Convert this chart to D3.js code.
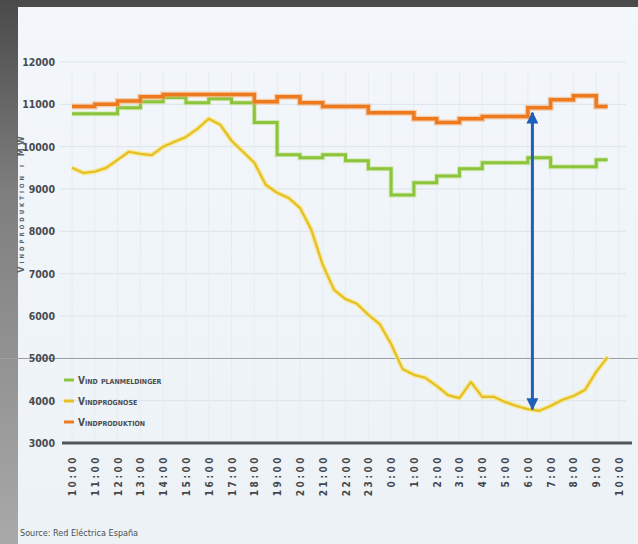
<!DOCTYPE html>
<html>
<head>
<meta charset="utf-8">
<script src="https://cdn.jsdelivr.net/npm/d3@7"></script>
<style>
  html, body { margin: 0; padding: 0; background: #fff; }
  svg { display: block; }
  .cond { font-family: 'DejaVu Sans Condensed', 'DejaVu Sans', sans-serif; font-stretch: condensed; }
</style>
</head>
<body>
<svg id="chart" width="638" height="544"></svg>
<script>
// Hour marks along the bottom axis (one every hour, 10:00 to 10:00 next day)
const hourLabels = ["10:00","11:00","12:00","13:00","14:00","15:00","16:00","17:00","18:00",
  "19:00","20:00","21:00","22:00","23:00","0:00","1:00","2:00","3:00","4:00","5:00",
  "6:00","7:00","8:00","9:00","10:00"];

// Value axis ticks (MW)
const yTicks = [3000, 4000, 5000, 6000, 7000, 8000, 9000, 10000, 11000, 12000];

// Hourly plan notifications (MW), one value per hour from hour 0
const planValues = [10780, 10780, 10920, 11060, 11160, 11040, 11130, 11040, 10570, 9810,
  9740, 9810, 9670, 9480, 8860, 9150, 9310, 9480, 9620, 9620, 9740, 9525, 9525, 9690];

// Hourly production (MW)
const productionValues = [10950, 11000, 11080, 11180, 11230, 11230, 11230, 11230, 11060, 11180,
  11040, 10950, 10950, 10800, 10800, 10660, 10570, 10660, 10710, 10710, 10920, 11110, 11200, 10950];

// Forecast (MW), one value every half hour from hour 0
const forecastValues = [9500, 9380, 9410, 9500, 9690, 9880, 9830, 9800, 10000, 10115,
  10230, 10420, 10660, 10520, 10140, 9880, 9620, 9100, 8910, 8790,
  8555, 8035, 7210, 6617, 6400, 6290, 6030, 5810, 5340, 4750,
  4610, 4540, 4350, 4130, 4060, 4440, 4090, 4090, 3970, 3875,
  3800, 3760, 3875, 4015, 4110, 4250, 4680, 5030];

// Series names and colours
const seriesNames = ["Vind planmeldinger", "Vindprognose", "Vindproduktion"];
const seriesColors = ["#8cc43e", "#e6bf22", "#ee7a1f"];

// Gap marker: hour position and the two values it spans
const gapHour = [20.2];
const gapRange = [3800, 10800];

const axisTitle = "Vindproduktion i MW";
const sourceText = "Source: Red Eléctrica España";

const svg = d3.select("#chart");
const W = 638, H = 544;

// ---- backdrop: grey frame and pale panel ----
const defs = svg.append("defs");
const frameGrad = defs.append("linearGradient").attr("id", "frameGrad")
  .attr("x1", 0).attr("y1", 0).attr("x2", 0).attr("y2", 1);
frameGrad.append("stop").attr("offset", "0%").attr("stop-color", "#4a4a4a");
frameGrad.append("stop").attr("offset", "35%").attr("stop-color", "#7e7e7e");
frameGrad.append("stop").attr("offset", "100%").attr("stop-color", "#a9a9a9");
svg.append("rect").attr("width", W).attr("height", H).attr("fill", "url(#frameGrad)");

const panelGrad = defs.append("linearGradient").attr("id", "panelGrad")
  .attr("x1", 0).attr("y1", 0).attr("x2", 0).attr("y2", 1);
panelGrad.append("stop").attr("offset", "0%").attr("stop-color", "#f3f7fb");
panelGrad.append("stop").attr("offset", "100%").attr("stop-color", "#edf2f7");
svg.append("rect").attr("x", 18).attr("y", 7).attr("width", W - 18).attr("height", H - 7)
  .attr("fill", "url(#panelGrad)");

// ---- scales ----
const x = d3.scaleLinear().domain([0, 24]).range([72, 619]);
const y = d3.scaleLinear().domain([3000, 12000]).range([443, 62]);

// ---- grid ----
const grid = svg.append("g");
grid.selectAll("line.h").data(yTicks.slice(1)).join("line")
  .attr("x1", 60).attr("x2", 626)
  .attr("y1", d => y(d)).attr("y2", d => y(d))
  .attr("stroke", "#dbe3eb").attr("stroke-width", 1);
grid.selectAll("line.v").data(d3.range(0, 25)).join("line")
  .attr("x1", d => x(d)).attr("x2", d => x(d))
  .attr("y1", y(12000) + 10).attr("y2", y(3000))
  .attr("stroke", "#e5ecf2").attr("stroke-width", 1);

// darker rule across the whole picture at the 5000 level
svg.append("line").attr("x1", 0).attr("x2", W)
  .attr("y1", Math.round(y(5000)) + 0.5).attr("y2", Math.round(y(5000)) + 0.5)
  .attr("stroke", "#9aa0a6").attr("stroke-width", 1);

// ---- y axis labels ----
const yAxis = d3.axisLeft(y).tickValues(yTicks).tickSize(0).tickPadding(0).tickFormat(d3.format("d"));
const yg = svg.append("g").attr("transform", "translate(55,0)").call(yAxis);
yg.select(".domain").remove();
yg.selectAll("text")
  .attr("class", "cond").attr("font-family", null)
  .attr("font-size", 10.5).attr("font-weight", "bold").attr("fill", "#474b4f");

// axis title
svg.append("text")
  .attr("class", "cond")
  .attr("transform", "translate(24,203) rotate(-90)")
  .attr("text-anchor", "middle")
  .attr("font-size", 9).attr("font-weight", "bold").attr("fill", "#5d6165")
  .attr("letter-spacing", 3)
  .style("font-variant", "small-caps")
  .text(axisTitle);

// ---- bottom axis ----
svg.append("line").attr("x1", 62).attr("x2", 632).attr("y1", y(3000)).attr("y2", y(3000))
  .attr("stroke", "#50565c").attr("stroke-width", 3);

const xAxis = d3.axisBottom(x).tickValues(d3.range(0, 25)).tickSize(0)
  .tickFormat(i => hourLabels[i]);
const xg = svg.append("g").attr("transform", `translate(0,${y(3000)})`).call(xAxis);
xg.select(".domain").remove();
xg.selectAll("text")
  .attr("class", "cond").attr("font-family", null)
  .attr("transform", "translate(0,12) rotate(-90)")
  .attr("text-anchor", "end").attr("dy", "0.35em").attr("y", 0).attr("x", 0)
  .attr("font-size", 10).attr("font-weight", "bold").attr("fill", "#44484c")
  .attr("letter-spacing", 2.5);

// ---- series ----
const stepPoints = vals => vals.map((v, i) => [i, v]).concat([[vals.length - 0.5, vals[vals.length - 1]]]);
const stepLine = d3.line().x(d => x(d[0])).y(d => y(d[1])).curve(d3.curveStepAfter);
const plainLine = d3.line().x(d => x(d[0])).y(d => y(d[1]));

const forecastPts = forecastValues.map((v, i) => [i * 0.5, v]);

// forecast (soft halo under the line)
svg.append("path").attr("d", plainLine(forecastPts)).attr("fill", "none")
  .attr("stroke", "#f6e68a").attr("stroke-width", 5).attr("stroke-linejoin", "round").attr("opacity", 0.8);
svg.append("path").attr("d", plainLine(forecastPts)).attr("fill", "none")
  .attr("stroke", seriesColors[1]).attr("stroke-width", 2.2).attr("stroke-linejoin", "round");

// plan notifications
svg.append("path").attr("d", stepLine(stepPoints(planValues))).attr("fill", "none")
  .attr("stroke", "#c9e79a").attr("stroke-width", 5).attr("opacity", 0.7);
svg.append("path").attr("d", stepLine(stepPoints(planValues))).attr("fill", "none")
  .attr("stroke", seriesColors[0]).attr("stroke-width", 3);

// production
svg.append("path").attr("d", stepLine(stepPoints(productionValues))).attr("fill", "none")
  .attr("stroke", "#f7b27a").attr("stroke-width", 6).attr("opacity", 0.6);
svg.append("path").attr("d", stepLine(stepPoints(productionValues))).attr("fill", "none")
  .attr("stroke", seriesColors[2]).attr("stroke-width", 3.5);

// ---- gap arrow ----
const arrowDefs = defs.append("marker").attr("id", "arrowHead")
  .attr("viewBox", "0 0 10 10").attr("refX", 9).attr("refY", 5)
  .attr("markerWidth", 4).attr("markerHeight", 4).attr("orient", "auto-start-reverse")
  .attr("markerUnits", "strokeWidth");
arrowDefs.append("path").attr("d", "M0,0 L10,5 L0,10 z").attr("fill", "#1f5fb8");
svg.append("line")
  .attr("x1", x(gapHour[0])).attr("x2", x(gapHour[0]))
  .attr("y1", y(gapRange[0])).attr("y2", y(gapRange[1]))
  .attr("stroke", "#1f5fb8").attr("stroke-width", 3)
  .attr("marker-start", "url(#arrowHead)").attr("marker-end", "url(#arrowHead)");

// ---- legend ----
const legendOrder = [0, 1, 2];
const legend = svg.append("g").attr("transform", "translate(64,380)");
legend.selectAll("g").data(legendOrder).join("g")
  .attr("transform", (d, i) => `translate(0,${i * 21})`)
  .each(function (d) {
    const g = d3.select(this);
    g.append("line").attr("x1", 0).attr("x2", 10).attr("y1", 0).attr("y2", 0)
      .attr("stroke", seriesColors[d]).attr("stroke-width", 3);
    g.append("text").attr("class", "cond").attr("x", 14).attr("y", 0).attr("dy", "0.35em")
      .attr("font-size", 10).attr("font-weight", "bold").attr("fill", "#4a4e52")
      .style("font-variant", "small-caps")
      .text(seriesNames[d]);
  });

// ---- source ----
svg.append("text").attr("class", "cond").attr("x", 20).attr("y", 536)
  .attr("font-size", 9).attr("fill", "#4a4e52")
  .text(sourceText);
</script>
</body>
</html>
